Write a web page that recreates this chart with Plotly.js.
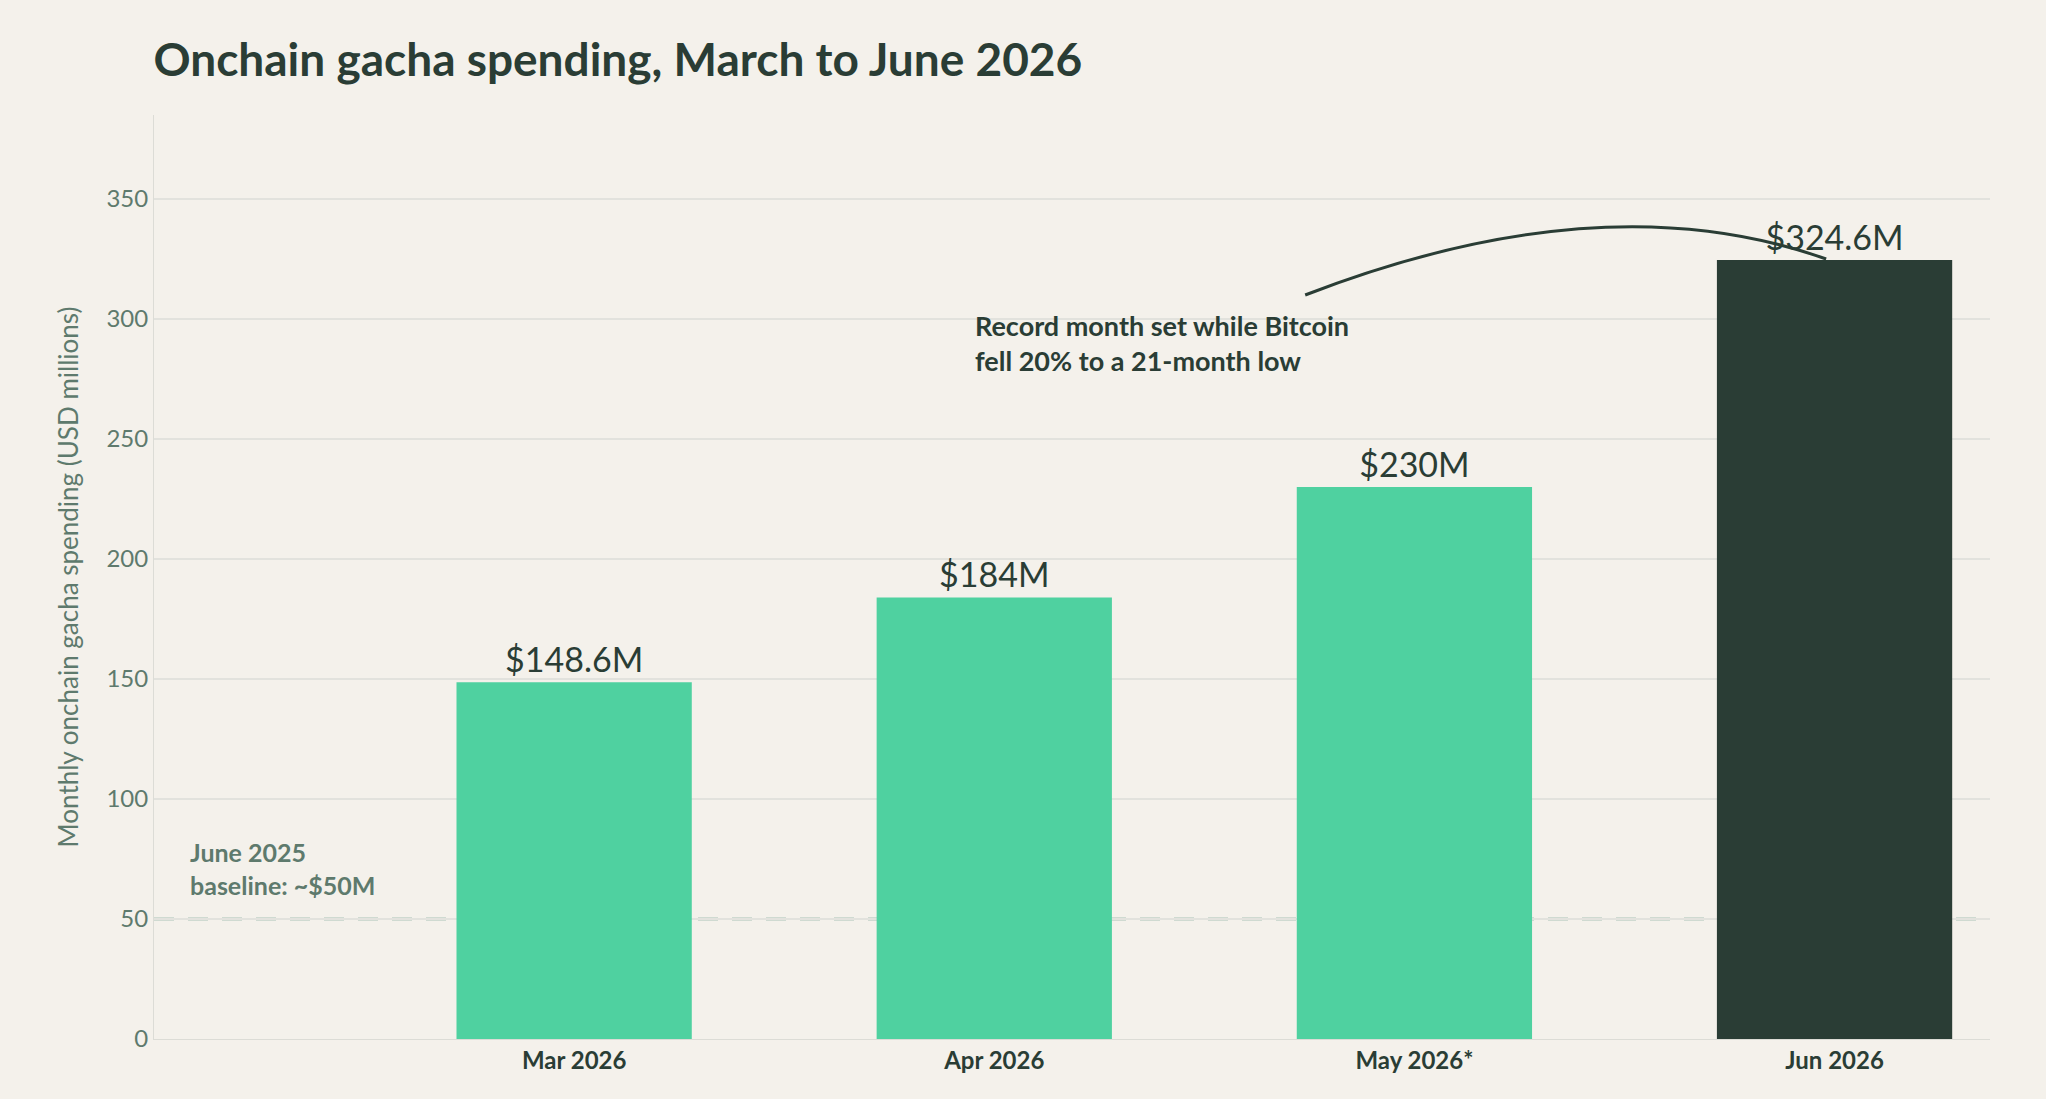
<!DOCTYPE html>
<html><head><meta charset="utf-8">
<script src="https://cdn.plot.ly/plotly-3.0.1.min.js"></script>
<style>body{margin:0;background:#f4f1eb}</style>
</head><body>
<div id="chart" style="width:2046px;height:1099px"></div>
<script>
var months = ['Mar 2026', 'Apr 2026', 'May 2026*', 'Jun 2026']
var spending = [148.6, 184, 230, 324.6]
var valueLabels = ['$148.6M', '$184M', '$230M', '$324.6M']
var barColors = ['#4fd1a0', '#4fd1a0', '#4fd1a0', '#2a3d35']
var baseline = 50

var idx = months.map(function (m, i) { return i })

var data = [{
  x: idx, y: spending, type: 'bar', width: 0.56,
  marker: {color: barColors},
  text: valueLabels, textposition: 'outside', cliponaxis: false,
  textfont: {family: 'Lato, sans-serif', size: 34, color: '#2a3d35'},
  hoverinfo: 'skip'
}]

var layout = {
  width: 2046, height: 1099,
  paper_bgcolor: '#f4f1eb', plot_bgcolor: '#f4f1eb',
  margin: {l: 154, r: 56, t: 115, b: 60},
  showlegend: false,
  title: {text: '<b>Onchain gacha spending, March to June 2026</b>', x: 0.075, xanchor: 'left', y: 0.96,
    font: {family: 'Lato, sans-serif', size: 46, color: '#2a3d35'}},
  xaxis: {range: [-1.0, 3.37], tickvals: idx, ticktext: months.map(function (m) { return '<b>' + m + '</b>' }),
    tickfont: {family: 'Lato, sans-serif', size: 24, color: '#2a3d35'},
    showgrid: false, zeroline: false, showline: true, linecolor: '#dcdcd6', ticks: ''},
  yaxis: {range: [0, 385], tickvals: [0, 50, 100, 150, 200, 250, 300, 350],
    tickfont: {family: 'Lato, sans-serif', size: 24, color: '#5e7a6d'},
    gridcolor: '#e2e2dd', gridwidth: 1.5, zeroline: false, showline: true, linecolor: '#dcdcd6', ticks: '',
    title: {text: 'Monthly onchain gacha spending (USD millions)', standoff: 20,
      font: {family: 'Lato, sans-serif', size: 26, color: '#5e7a6d'}}},
  bargap: 0.4,
  shapes: [
    {type: 'line', xref: 'paper', x0: 0, x1: 1, yref: 'y', y0: baseline, y1: baseline,
      line: {color: '#a9c4b7', width: 3, dash: '20px,14px'}, layer: 'below'},
    {type: 'path', xref: 'x', yref: 'y', path: 'M1.74,310 Q2.45,358 2.98,325',
      line: {color: '#2a3d35', width: 3}}
  ],
  annotations: [
    {xref: 'x', yref: 'y', x: -0.92, y: 57, xanchor: 'left', yanchor: 'bottom', align: 'left', showarrow: false,
      text: '<b>June 2025<br>baseline: ~$50M</b>',
      font: {family: 'Lato, sans-serif', size: 25, color: '#5e7a6d'}},
    {xref: 'x', yref: 'y', x: 0.95, y: 305, xanchor: 'left', yanchor: 'top', align: 'left', showarrow: false,
      text: '<b>Record month set while Bitcoin<br>fell 20% to a 21-month low</b>',
      font: {family: 'Lato, sans-serif', size: 27, color: '#2a3d35'}}
  ]
}

Plotly.newPlot('chart', data, layout, {displayModeBar: false})
</script>
</body></html>
